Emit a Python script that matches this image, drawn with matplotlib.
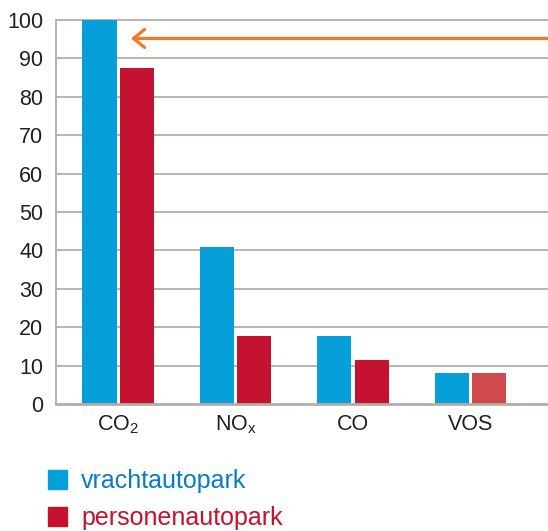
#!/usr/bin/env python3
"""
emissions bar chart: vrachtautopark vs personenautopark
"""

import matplotlib
matplotlib.use('Agg')
import matplotlib.pyplot as plt
from matplotlib.patches import Patch
import numpy as np

categories = [r'CO$_2$', r'NO$_\mathregular{x}$', 'CO', 'VOS']
vracht = [100, 41, 17.7, 8.1]
personen = [87.6, 17.7, 11.5, 8.1]
series_names = ['vrachtautopark', 'personenautopark']
yticks = list(range(0, 101, 10))
arrow_level = 95.2

blue = '#079fda'
red = '#c41230'
red_light = '#cf4a4a'
grid_col = '#b5aca5'
text_col = '#231f20'

plt.rcParams['font.family'] = ['Liberation Sans', 'DejaVu Sans']
plt.rcParams['mathtext.fontset'] = 'custom'
plt.rcParams['mathtext.rm'] = 'Liberation Sans'
plt.rcParams['mathtext.it'] = 'Liberation Sans'

fig = plt.figure(figsize=(5.48, 5.31), dpi=100)
ax = fig.add_axes([56 / 548, 1 - 404 / 531, 1 - 56 / 548, (404 - 20) / 531])

x = np.arange(len(categories))
w = 0.29
off = 0.158
ax.bar(x - off, vracht, width=w, color=blue, zorder=3)
red_colors = [red] * (len(personen) - 1) + [red_light]
ax.bar(x + off, personen, width=w, color=red_colors, zorder=3)

ax.set_xlim(-0.528, 3.66)
ax.set_ylim(0, 100)
ax.set_yticks(yticks)
ax.set_xticks(x)
ax.set_xticklabels(categories)
ax.tick_params(axis='both', length=0, labelsize=15.5, colors=text_col)
ax.tick_params(axis='y', pad=9)
ax.tick_params(axis='x', pad=7)
for t in yticks[1:]:
    ax.axhline(t, color=grid_col, lw=1.3, zorder=1, clip_on=False)

for s in ['top', 'right']:
    ax.spines[s].set_visible(False)
ax.spines['left'].set_color(grid_col)
ax.spines['left'].set_linewidth(1.3)
ax.spines['bottom'].set_color(grid_col)
ax.spines['bottom'].set_linewidth(2)
ax.spines['bottom'].set_zorder(4)

ax.annotate('', xy=(0.11, arrow_level), xytext=(3.66, arrow_level),
            xycoords='data', textcoords='data',
            arrowprops=dict(arrowstyle='->,head_length=0.8,head_width=0.65',
                            color='#f07a26', lw=2.3, shrinkA=0, shrinkB=0),
            zorder=5, annotation_clip=False)

handles = [Patch(color=blue), Patch(color=red)]
fig.legend(handles, series_names, loc='upper left', bbox_to_anchor=(48 / 548, 1 - 469 / 531),
           frameon=False, fontsize=18, handlelength=0.76, handleheight=0.76,
           handletextpad=0.56, labelspacing=0.52, borderpad=0, borderaxespad=0,
           labelcolor=['#0a7cc4', red])

fig.savefig('out.png', dpi=100)
